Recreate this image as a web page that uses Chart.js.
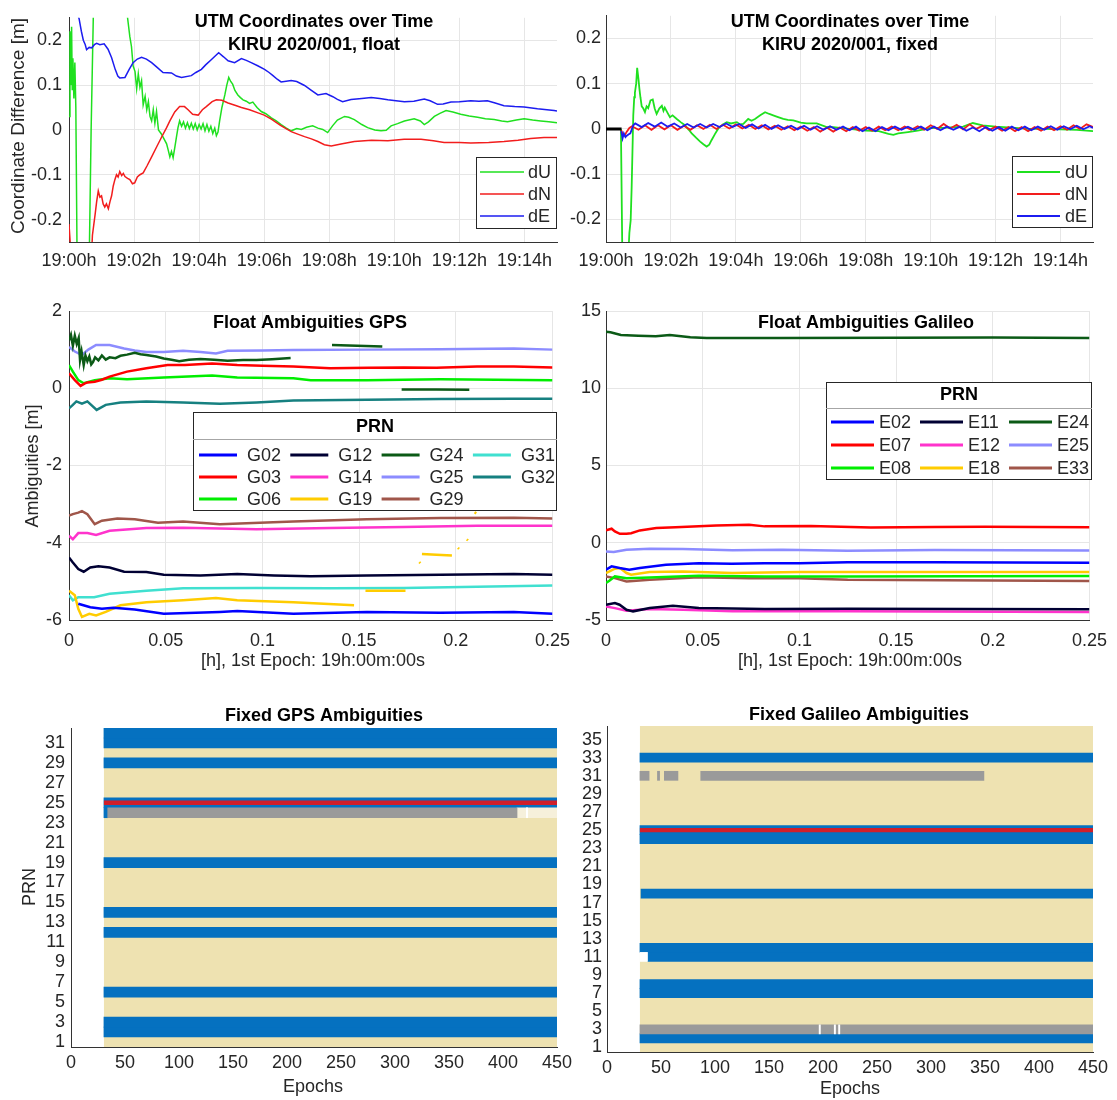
<!DOCTYPE html>
<html>
<head>
<meta charset="utf-8">
<title>KIRU 2020/001 float and fixed solution</title>
<script src="https://cdn.jsdelivr.net/npm/chart.js@4.4.1/dist/chart.umd.min.js"></script>
<style>
  body { margin: 0; background: #fff; }
  #page { position: relative; width: 1117px; height: 1100px; overflow: hidden; }
  canvas { position: absolute; }
</style>
</head>
<body>
<div id="page">
  <canvas id="utmFloat" width="580" height="280" style="left:0;top:0"></canvas>
  <canvas id="utmFixed" width="547" height="280" style="left:570px;top:0"></canvas>
  <canvas id="ambGps" width="580" height="390" style="left:0;top:290px"></canvas>
  <canvas id="ambGal" width="547" height="390" style="left:570px;top:290px"></canvas>
  <canvas id="fixGps" width="580" height="410" style="left:0;top:690px"></canvas>
  <canvas id="fixGal" width="547" height="410" style="left:570px;top:690px"></canvas>
</div>
<script>
// ---------- UTM coordinate differences [m], time = minutes after 19:00 ----------
const timeTicks = [0, 2, 4, 6, 8, 10, 12, 14];
const diffTicks = [-0.2, -0.1, 0, 0.1, 0.2];

const floatDU = [[0,0.03],[0.03,0.22],[0.06,0.10],[0.08,0.23],[0.10,0.09],[0.12,0.16],[0.15,0.07],[0.18,0.15],[0.21,0.05],[0.25,-0.30],
  [0.62,-0.30],[0.68,0.0],[0.76,0.30],[1.78,0.30],[1.80,0.25],[1.87,0.208],[1.92,0.186],[1.97,0.143],[2.03,0.13],[2.08,0.092],[2.13,0.125],
  [2.18,0.095],[2.23,0.11],[2.28,0.056],[2.34,0.075],[2.39,0.045],[2.44,0.063],[2.49,0.03],[2.54,0.02],[2.59,0.045],[2.64,0.015],[2.69,0.041],
  [2.75,0.0],[2.84,-0.009],[2.92,-0.02],[3.00,-0.031],[3.05,-0.045],[3.10,-0.060],[3.15,-0.048],[3.20,-0.062],[3.25,-0.04],[3.30,-0.017],
  [3.35,0.005],[3.40,0.02],[3.46,0.008],[3.52,0.018],[3.58,0.004],[3.64,0.016],[3.70,0.003],[3.76,0.015],[3.82,0.002],[3.88,0.014],[3.94,0.0],
  [4.00,0.012],[4.06,0.002],[4.12,0.014],[4.18,-0.002],[4.24,0.012],[4.30,-0.003],[4.36,0.008],[4.42,-0.008],[4.48,0.004],[4.53,-0.013],
  [4.58,-0.005],[4.63,0.02],[4.70,0.05],[4.79,0.078],[4.85,0.10],[4.91,0.117],[4.97,0.108],[5.03,0.102],[5.10,0.088],[5.19,0.078],[5.27,0.072],
  [5.35,0.067],[5.45,0.064],[5.55,0.059],[5.65,0.062],[5.78,0.05],[5.91,0.041],[6.05,0.036],[6.22,0.027],[6.37,0.02],[6.52,0.012],[6.68,0.004],
  [6.83,-0.002],[7.00,0.003],[7.14,0.001],[7.30,0.006],[7.49,0.009],[7.65,0.004],[7.80,0.001],[7.95,-0.006],[8.10,0.009],[8.25,0.022],
  [8.47,0.030],[8.60,0.028],[8.77,0.023],[9.00,0.012],[9.18,0.005],[9.40,0.0],[9.59,-0.002],[9.75,-0.001],[9.90,0.009],[10.10,0.014],
  [10.31,0.02],[10.61,0.025],[10.80,0.02],[10.92,0.012],[11.05,0.018],[11.23,0.03],[11.40,0.037],[11.59,0.043],[11.80,0.04],[12.04,0.035],
  [12.30,0.031],[12.56,0.028],[12.80,0.025],[13.07,0.023],[13.30,0.02],[13.48,0.018],[13.75,0.022],[13.99,0.025],[14.25,0.022],[14.50,0.02],
  [14.75,0.018],[15.00,0.016]];

const floatDN = [[0,-0.21],[0.08,-0.30],[0.68,-0.30],[0.72,-0.235],[0.80,-0.19],[0.85,-0.16],[0.90,-0.136],[0.95,-0.15],[1.0,-0.147],
  [1.05,-0.165],[1.10,-0.172],[1.15,-0.165],[1.21,-0.176],[1.26,-0.16],[1.31,-0.147],[1.36,-0.125],[1.41,-0.111],[1.46,-0.1],[1.51,-0.105],
  [1.56,-0.093],[1.62,-0.102],[1.67,-0.097],[1.72,-0.104],[1.80,-0.108],[1.87,-0.111],[1.95,-0.12],[2.02,-0.118],[2.1,-0.105],[2.18,-0.1],
  [2.28,-0.096],[2.4,-0.08],[2.54,-0.06],[2.7,-0.037],[2.84,-0.017],[3.0,0.005],[3.10,0.02],[3.25,0.04],[3.40,0.052],[3.55,0.052],
  [3.66,0.045],[3.8,0.035],[3.97,0.033],[4.1,0.045],[4.22,0.052],[4.4,0.063],[4.53,0.067],[4.7,0.066],[4.89,0.06],[5.1,0.055],[5.30,0.05],
  [5.55,0.045],[5.81,0.038],[6.0,0.033],[6.22,0.024],[6.5,0.01],[6.83,-0.004],[7.05,-0.01],[7.24,-0.015],[7.45,-0.02],[7.65,-0.026],
  [7.85,-0.033],[8.06,-0.036],[8.4,-0.031],[8.77,-0.026],[9.3,-0.023],[9.80,-0.024],[10.3,-0.021],[10.82,-0.021],[11.2,-0.024],[11.53,-0.028],
  [12.0,-0.028],[12.35,-0.029],[12.9,-0.028],[13.37,-0.026],[13.8,-0.023],[14.19,-0.019],[14.6,-0.017],[15,-0.017]];

const floatDE = [[0,0.32],[0.31,0.248],[0.38,0.22],[0.44,0.20],[0.50,0.19],[0.54,0.179],[0.62,0.184],[0.70,0.183],[0.78,0.19],[0.85,0.193],
  [0.95,0.19],[1.08,0.192],[1.2,0.18],[1.31,0.161],[1.42,0.135],[1.50,0.12],[1.56,0.116],[1.72,0.117],[1.85,0.135],[1.97,0.15],[2.1,0.158],
  [2.23,0.162],[2.38,0.158],[2.54,0.15],[2.7,0.14],[2.89,0.128],[3.15,0.127],[3.30,0.12],[3.46,0.117],[3.76,0.121],[3.9,0.128],[4.07,0.135],
  [4.2,0.145],[4.38,0.157],[4.60,0.172],[4.75,0.163],[4.89,0.154],[5.09,0.15],[5.30,0.159],[5.45,0.155],[5.60,0.15],[5.8,0.143],[6.01,0.135],
  [6.15,0.128],[6.27,0.121],[6.4,0.113],[6.52,0.107],[6.83,0.110],[7.0,0.108],[7.24,0.099],[7.45,0.088],[7.65,0.078],[7.90,0.081],[8.11,0.074],
  [8.25,0.068],[8.41,0.063],[8.67,0.068],[9.0,0.07],[9.29,0.072],[9.55,0.07],[9.80,0.067],[10.05,0.065],[10.31,0.063],[10.6,0.064],
  [10.92,0.069],[11.1,0.065],[11.33,0.057],[11.5,0.058],[11.74,0.062],[12.0,0.063],[12.35,0.065],[12.6,0.064],[12.86,0.065],[13.1,0.06],
  [13.37,0.054],[13.7,0.052],[13.99,0.051],[14.4,0.047],[14.91,0.043],[15,0.042]];

const fixedReset = [[0,0],[0.48,0]];

const fixedDU = [[0.46,0],[0.50,-0.26],[0.70,-0.26],[0.72,-0.23],[0.76,-0.202],[0.79,-0.13],[0.84,0.03],[0.87,0.07],[0.89,0.08],[0.93,0.10],
  [0.96,0.135],[1.0,0.11],[1.03,0.088],[1.06,0.07],[1.10,0.05],[1.15,0.045],[1.20,0.037],[1.25,0.05],[1.30,0.046],[1.37,0.063],[1.44,0.065],
  [1.50,0.045],[1.56,0.033],[1.64,0.045],[1.72,0.051],[1.77,0.04],[1.81,0.047],[1.9,0.035],[1.97,0.026],[2.05,0.03],[2.18,0.022],[2.3,0.015],
  [2.43,0.008],[2.55,-0.002],[2.64,-0.010],[2.78,-0.02],[2.90,-0.028],[3.0,-0.034],[3.10,-0.039],[3.18,-0.035],[3.25,-0.025],[3.35,-0.012],
  [3.46,0.001],[3.6,0.01],[3.72,0.015],[3.85,0.012],[4.03,0.015],[4.13,0.01],[4.23,0.011],[4.38,0.022],[4.48,0.018],[4.59,0.022],[4.75,0.03],
  [4.90,0.037],[5.03,0.033],[5.15,0.03],[5.3,0.026],[5.46,0.022],[5.6,0.02],[5.77,0.019],[6.0,0.014],[6.18,0.012],[6.49,0.012],[6.80,0.004],
  [7.0,0.004],[7.5,0.0],[8.0,-0.004],[8.4,-0.005],[8.7,-0.011],[8.85,-0.013],[9.0,-0.01],[9.3,-0.007],[9.6,-0.004],[10.0,0.002],[10.5,0.003],
  [11.0,0.005],[11.3,0.013],[11.6,0.008],[12.0,0.005],[12.5,0.003],[13.0,0.0],[13.5,0.0],[14.0,-0.001],[14.5,-0.002],[15,-0.005]];

const fixedDN = [[0.47,-0.003],[0.52,-0.012],[0.57,-0.015],[0.64,-0.006],[0.72,0.002],
  [0.8,0.006],[1.0,-0.002],[1.2,0.008],[1.4,-0.002],[1.6,0.008],[1.8,-0.001],[2.0,0.008],[2.2,-0.002],[2.4,0.007],[2.6,-0.002],[2.8,0.008],
  [3.0,0.0],[3.2,0.009],[3.4,0.0],[3.6,0.009],[3.8,0.001],[4.0,0.01],[4.2,0.001],[4.4,0.009],[4.6,0.0],[4.8,0.008],[5.0,-0.001],[5.2,0.007],
  [5.4,-0.002],[5.6,0.006],[5.8,-0.003],[6.0,0.005],[6.2,-0.004],[6.4,0.004],[6.6,-0.006],[6.8,0.003],[7.0,-0.006],[7.2,0.003],[7.4,-0.005],
  [7.6,0.004],[7.8,-0.004],[8.0,0.004],[8.2,-0.004],[8.4,0.005],[8.6,-0.003],[8.8,0.005],[9.0,-0.003],[9.2,0.005],[9.4,-0.002],[9.6,0.006],
  [9.8,-0.002],[10.0,0.008],[10.2,0.0],[10.4,0.011],[10.6,0.001],[10.8,0.009],[11.0,-0.001],[11.2,0.01],[11.4,0.0],[11.6,0.007],[11.8,-0.003],
  [12.0,0.005],[12.2,-0.004],[12.4,0.004],[12.6,-0.005],[12.8,0.004],[13.0,-0.005],[13.2,0.004],[13.4,-0.004],[13.6,0.005],[13.8,-0.003],
  [14.0,0.006],[14.2,-0.002],[14.4,0.008],[14.6,0.0],[14.8,0.01],[15.0,0.004]];

const fixedDE = [[0.47,-0.005],[0.51,-0.021],[0.55,-0.01],[0.60,-0.018],[0.64,-0.015],[0.70,-0.012],[0.75,-0.01],[0.80,0.0],[0.84,0.008],
  [0.9,0.012],[1.1,0.004],[1.3,0.013],[1.5,0.005],[1.7,0.014],[1.9,0.005],[2.1,0.012],[2.3,0.003],[2.5,0.011],[2.7,0.003],[2.9,0.011],
  [3.1,0.003],[3.3,0.011],[3.5,0.004],[3.7,0.012],[3.9,0.004],[4.1,0.011],[4.3,0.002],[4.5,0.01],[4.7,0.001],[4.9,0.009],[5.1,0.0],[5.3,0.008],
  [5.5,0.0],[5.7,0.007],[5.9,-0.001],[6.1,0.007],[6.3,-0.002],[6.5,0.006],[6.7,-0.002],[6.9,0.006],[7.1,-0.002],[7.3,0.005],[7.5,-0.003],
  [7.7,0.005],[7.9,-0.005],[8.1,0.003],[8.3,-0.005],[8.5,0.004],[8.7,-0.003],[8.9,0.005],[9.1,-0.002],[9.3,0.005],[9.5,-0.002],[9.7,0.005],
  [9.9,-0.003],[10.1,0.005],[10.3,-0.003],[10.5,0.005],[10.7,-0.002],[10.9,0.005],[11.1,-0.004],[11.3,0.003],[11.5,-0.005],[11.7,0.004],
  [11.9,-0.004],[12.1,0.004],[12.3,-0.004],[12.5,0.005],[12.7,-0.003],[12.9,0.005],[13.1,-0.003],[13.3,0.005],[13.5,-0.002],[13.7,0.006],
  [13.9,-0.002],[14.1,0.006],[14.3,-0.001],[14.5,0.007],[14.7,-0.001],[14.9,0.006],[15.0,0.002]];

// ---------- float ambiguities [m], time = hours after 19:00:00 ----------
const hourTicks = [0, 0.05, 0.1, 0.15, 0.2, 0.25];
const gpsAmbTicks = [-6, -4, -2, 0, 2];
const galAmbTicks = [-5, 0, 5, 10, 15];

const G02 = [[0.0048,-5.58],[0.011,-5.67],[0.017,-5.71],[0.023,-5.68],[0.034,-5.73],[0.049,-5.84],[0.078,-5.79],[0.087,-5.77],[0.116,-5.84],
  [0.154,-5.79],[0.192,-5.81],[0.23,-5.79],[0.25,-5.84]];
const G03 = [[0,0.39],[0.003,0.21],[0.006,0.06],[0.008,0.12],[0.0095,0.15],[0.0133,0.17],[0.017,0.22],[0.021,0.30],[0.030,0.43],[0.04,0.52],
  [0.051,0.60],[0.06,0.60],[0.074,0.64],[0.087,0.60],[0.1,0.58],[0.116,0.56],[0.135,0.52],[0.155,0.53],[0.173,0.54],[0.19,0.53],[0.211,0.56],
  [0.23,0.56],[0.25,0.54]];
const G06 = [[0,0.60],[0.002,0.43],[0.0048,0.21],[0.0076,0.13],[0.0133,0.21],[0.021,0.26],[0.030,0.23],[0.049,0.28],[0.074,0.33],[0.087,0.28],
  [0.116,0.26],[0.125,0.21],[0.154,0.21],[0.192,0.23],[0.25,0.21]];
const G12 = [[0,-4.38],[0.002,-4.51],[0.0048,-4.68],[0.0076,-4.75],[0.011,-4.64],[0.0152,-4.61],[0.021,-4.64],[0.0285,-4.75],[0.04,-4.76],
  [0.049,-4.83],[0.068,-4.85],[0.087,-4.81],[0.106,-4.85],[0.125,-4.87],[0.154,-4.85],[0.192,-4.83],[0.23,-4.81],[0.25,-4.83]];
const G14 = [[0,-3.82],[0.002,-3.91],[0.0048,-3.75],[0.0095,-3.75],[0.014,-3.80],[0.021,-3.69],[0.04,-3.62],[0.059,-3.61],[0.097,-3.65],
  [0.135,-3.62],[0.173,-3.59],[0.211,-3.56],[0.25,-3.56]];
const G19 = [[0,-5.24],[0.003,-5.36],[0.0048,-5.71],[0.0067,-5.92],[0.0105,-5.84],[0.014,-5.88],[0.019,-5.79],[0.0266,-5.62],[0.04,-5.54],
  [0.059,-5.49],[0.076,-5.43],[0.087,-5.49],[0.116,-5.54],[0.1474,-5.62],[0.1475,null],[0.1533,-5.24],[0.174,-5.24],[0.1741,null],
  [0.1811,-4.50],[0.1817,-4.53],[0.1818,null],[0.1825,-4.29],[0.190,-4.31],[0.198,-4.33],[0.1981,null],[0.2011,-4.13],[0.2017,-4.16],
  [0.2018,null],[0.2057,-3.91],[0.2063,-3.94],[0.2064,null],[0.2097,-3.21],[0.2106,-3.24]];
const G24 = [[0,1.24],[0.001,1.38],[0.002,1.1],[0.003,1.36],[0.004,1.15],[0.005,1.3],[0.0057,0.73],[0.0065,0.95],[0.0076,0.6],[0.0085,0.85],
  [0.0095,0.7],[0.0105,0.82],[0.0115,0.62],[0.0124,0.68],[0.0135,0.8],[0.0152,0.72],[0.017,0.85],[0.019,0.74],[0.021,0.8],[0.024,0.78],
  [0.0266,0.84],[0.030,0.87],[0.034,0.92],[0.037,0.88],[0.04,0.86],[0.045,0.82],[0.049,0.77],[0.053,0.74],[0.057,0.70],[0.062,0.74],
  [0.068,0.76],[0.075,0.74],[0.082,0.71],[0.09,0.73],[0.097,0.73],[0.105,0.75],[0.1146,0.78],[0.1147,null],[0.136,1.12],[0.149,1.10],
  [0.162,1.08],[0.1621,null],[0.172,-0.03],[0.19,-0.03],[0.207,-0.04]];
const G25 = [[0,1.07],[0.003,0.95],[0.0067,0.86],[0.01,1.0],[0.014,1.12],[0.021,1.12],[0.0285,1.03],[0.034,0.98],[0.04,0.94],[0.049,0.94],
  [0.059,0.97],[0.068,0.94],[0.076,0.90],[0.082,0.97],[0.1,0.98],[0.116,0.99],[0.154,1.0],[0.192,1.01],[0.23,1.03],[0.25,1.0]];
const G29 = [[0,-3.30],[0.002,-3.26],[0.0048,-3.22],[0.0067,-3.18],[0.0095,-3.26],[0.0133,-3.52],[0.017,-3.43],[0.025,-3.37],[0.034,-3.39],
  [0.046,-3.48],[0.059,-3.45],[0.078,-3.52],[0.116,-3.45],[0.154,-3.39],[0.192,-3.36],[0.23,-3.35],[0.25,-3.37]];
const G31 = [[0,-5.36],[0.002,-5.49],[0.0048,-5.41],[0.013,-5.41],[0.021,-5.32],[0.04,-5.24],[0.059,-5.18],[0.097,-5.17],[0.135,-5.18],
  [0.173,-5.17],[0.211,-5.14],[0.25,-5.11]];
const G32 = [[0,-0.52],[0.002,-0.43],[0.0038,-0.34],[0.0067,-0.40],[0.0095,-0.34],[0.0143,-0.56],[0.019,-0.43],[0.0266,-0.37],[0.04,-0.34],
  [0.059,-0.37],[0.078,-0.40],[0.097,-0.37],[0.116,-0.32],[0.154,-0.30],[0.192,-0.28],[0.23,-0.27],[0.25,-0.27]];

const E02 = [[0,-1.75],[0.0029,-1.53],[0.007,-1.64],[0.012,-1.75],[0.0175,-1.64],[0.031,-1.42],[0.048,-1.32],[0.065,-1.36],[0.082,-1.32],
  [0.1,-1.32],[0.125,-1.27],[0.17,-1.27],[0.25,-1.29]];
const E07 = [[0,0.80],[0.0029,0.91],[0.0046,0.73],[0.0072,0.58],[0.0106,0.58],[0.013,0.62],[0.0175,0.80],[0.026,0.95],[0.036,1.01],[0.048,1.06],
  [0.057,1.12],[0.074,1.16],[0.082,1.06],[0.106,1.08],[0.137,0.98],[0.17,1.02],[0.196,1.04],[0.25,1.01]];
const E08 = [[0,-2.61],[0.0017,-2.46],[0.0046,-2.18],[0.0106,-2.29],[0.0226,-2.25],[0.048,-2.14],[0.082,-2.18],[0.125,-2.18],[0.25,-2.16]];
const E11 = [[0,-4.01],[0.0046,-3.90],[0.007,-4.01],[0.0106,-4.34],[0.014,-4.44],[0.0226,-4.23],[0.0346,-4.08],[0.048,-4.23],[0.082,-4.29],
  [0.125,-4.27],[0.25,-4.31]];
const E12 = [[0,-4.12],[0.0046,-4.23],[0.0106,-4.40],[0.0226,-4.29],[0.04,-4.34],[0.0654,-4.44],[0.125,-4.44],[0.25,-4.48]];
const E18 = [[0,-1.96],[0.0046,-1.68],[0.0072,-1.64],[0.0106,-1.96],[0.013,-2.07],[0.0226,-1.90],[0.0397,-1.86],[0.0654,-1.96],[0.1,-1.90],
  [0.125,-1.90],[0.25,-1.90]];
const E24 = [[0,13.66],[0.0023,13.62],[0.0077,13.45],[0.0167,13.40],[0.0257,13.36],[0.033,13.45],[0.0436,13.30],[0.052,13.25],[0.09,13.25],
  [0.15,13.27],[0.2,13.28],[0.25,13.25]];
const E25 = [[0,-0.56],[0.004,-0.6],[0.0106,-0.45],[0.0226,-0.39],[0.0397,-0.41],[0.0654,-0.49],[0.091,-0.45],[0.125,-0.52],[0.17,-0.47],
  [0.25,-0.50]];
const E33 = [[0,-2.18],[0.0046,-2.29],[0.0106,-2.50],[0.0226,-2.39],[0.048,-2.24],[0.074,-2.29],[0.1,-2.29],[0.125,-2.39],[0.25,-2.48]];

// ---------- fixed ambiguities per epoch: [prn, first epoch, last epoch] ----------
const epochTicks = [0, 50, 100, 150, 200, 250, 300, 350, 400, 450];
const gpsPrnTicks = [1, 3, 5, 7, 9, 11, 13, 15, 17, 19, 21, 23, 25, 27, 29, 31];
const galPrnTicks = [1, 3, 5, 7, 9, 11, 13, 15, 17, 19, 21, 23, 25, 27, 29, 31, 33, 35];
const epochSpan = [30.5, 450];

const gpsFixed = [[2,30.5,450],[3,30.5,450],[6,30.5,450],[12,30.5,450],[14,30.5,450],[19,30.5,450],[24,30.5,34],[25,30.5,450],
  [29,30.5,450],[31,30.5,450],[32,30.5,450]];
const gpsFloat = [[24,34,413]];
const gpsFaded = [[24,413,450]];
const gpsGaps = [[24,421.6,422.8]];
const gpsRef = [[25,30.5,450]];

const galFixed = [[2,30.5,450],[7,30.5,450],[8,30.5,450],[11,37.5,450],[12,30.5,450],[18,31.5,450],[24,30.5,450],[25,30.5,450],[33,30.5,450]];
const galFloat = [[3,30.5,450],[31,30.5,39],[31,46.7,48.7],[31,53.1,65.7],[31,86.8,349]];
const galGaps = [[11,30.5,37.5],[3,196.4,197.6],[3,210.4,211.6],[3,214.4,215.6]];
const galRef = [[25,30.5,450]];

// ---------- styling ----------
const FONT = 'Arial, "Liberation Sans", Helvetica, sans-serif';
const FS = 18;
const TXT = '#262626';
const GRID = '#e6e6e6';
const AXIS = '#333333';

const pts = a => a.map(([x, y]) => ({ x, y }));
const spans = a => a.map(([y, x0, x1]) => ({ y, x: [x0, x1] }));

const line = (label, data, color, width, order = 0, inLegend = true) => ({
  label, data: pts(data), borderColor: color, backgroundColor: color, borderWidth: width,
  pointRadius: 0, tension: 0, order, inLegend
});

const cells = (data, color, order, thick = 1) => ({
  data: spans(data), backgroundColor: color, borderWidth: 0, grouped: false,
  barPercentage: thick, categoryPercentage: 1, order
});

const texts = {
  id: 'texts',
  afterDraw(chart, args, o) {
    if (!o.items) return;
    const ctx = chart.ctx;
    o.items.forEach(it => {
      ctx.save();
      ctx.font = (it.bold ? 'bold ' : '') + (it.size || FS) + 'px ' + FONT;
      ctx.fillStyle = it.bold ? '#000' : TXT;
      ctx.textAlign = 'center';
      ctx.textBaseline = 'middle';
      ctx.translate(it.x, it.y);
      if (it.rot) ctx.rotate(-Math.PI / 2);
      ctx.fillText(it.t, 0, 0);
      ctx.restore();
    });
  }
};

const boxLegend = {
  id: 'boxLegend',
  afterDatasetsDraw(chart, args, o) {
    if (!o.box) return;
    const ctx = chart.ctx;
    const [bx, by, bw, bh] = o.box;
    ctx.save();
    ctx.fillStyle = '#fff';
    ctx.fillRect(bx, by, bw, bh);
    ctx.strokeStyle = '#262626';
    ctx.lineWidth = 1;
    ctx.strokeRect(bx + 0.5, by + 0.5, bw - 1, bh - 1);
    ctx.textBaseline = 'middle';
    if (o.title) {
      ctx.font = 'bold ' + FS + 'px ' + FONT;
      ctx.fillStyle = '#000';
      ctx.textAlign = 'center';
      ctx.fillText(o.title, bx + bw / 2, o.titleY);
      ctx.strokeStyle = '#a6a6a6';
      ctx.beginPath();
      ctx.moveTo(bx, o.sepY + 0.5);
      ctx.lineTo(bx + bw, o.sepY + 0.5);
      ctx.stroke();
    }
    ctx.font = FS + 'px ' + FONT;
    ctx.textAlign = 'left';
    ctx.fillStyle = TXT;
    chart.data.datasets.filter(d => d.inLegend).forEach((d, i) => {
      const x = o.x0 + Math.floor(i / o.rows) * o.colW;
      const y = o.y0 + (i % o.rows) * o.rowH;
      ctx.strokeStyle = d.borderColor;
      ctx.lineWidth = o.lineW;
      ctx.beginPath();
      ctx.moveTo(x, y);
      ctx.lineTo(x + o.lineLen, y);
      ctx.stroke();
      ctx.fillText(d.label, x + o.textDx, y + 1);
    });
    ctx.restore();
  }
};

const cellBackground = {
  id: 'cellBackground',
  beforeDatasetsDraw(chart, args, o) {
    if (!o.color) return;
    const { ctx, chartArea: a, scales: { x } } = chart;
    const x0 = x.getPixelForValue(o.span[0]), x1 = x.getPixelForValue(o.span[1]);
    ctx.save();
    ctx.fillStyle = o.color;
    ctx.fillRect(x0, a.top, x1 - x0, a.bottom - a.top);
    ctx.restore();
  }
};

Chart.register(texts, boxLegend, cellBackground);

function axis(s) {
  return {
    type: 'linear', min: s.min, max: s.max, offset: false,
    afterBuildTicks: sc => { sc.ticks = s.ticks.map(v => ({ value: v })); },
    afterFit: sc => { if (sc.isHorizontal()) sc.height = s.size; else sc.width = s.size; },
    ticks: {
      autoSkip: false, maxRotation: 0, padding: s.pad, color: TXT,
      font: { family: FONT, size: FS }, callback: s.fmt || (v => String(v))
    },
    grid: { display: s.grid !== false, color: GRID, lineWidth: 1, drawTicks: false, offset: false },
    border: { display: true, color: AXIS, width: 1 }
  };
}

function options(c) {
  return {
    responsive: false, animation: false, events: [],
    indexAxis: c.indexAxis || 'x',
    layout: { padding: c.pad },
    scales: { x: axis(c.x), y: axis(c.y) },
    plugins: {
      legend: { display: false },
      tooltip: { enabled: false },
      texts: { items: c.texts },
      boxLegend: c.legend || {},
      cellBackground: c.cells || {}
    }
  };
}

const clock = v => '19:' + String(v).padStart(2, '0') + 'h';

// ---------- UTM float ----------
new Chart(document.getElementById('utmFloat'), {
  type: 'line',
  data: { datasets: [
    line('dU', floatDU, '#1fe01f', 1.5, 3),
    line('dN', floatDN, '#f21d1d', 1.5, 2),
    line('dE', floatDE, '#1c1cf0', 1.5, 1)
  ] },
  options: options({
    pad: { left: 0, top: 12, right: 23, bottom: 0 },
    x: { min: 0, max: 15, ticks: timeTicks, size: 38, pad: 8, fmt: clock },
    y: { min: -0.25, max: 0.25, ticks: diffTicks, size: 69, pad: 7 },
    texts: [
      { t: 'UTM Coordinates over Time', x: 314, y: 22, bold: true },
      { t: 'KIRU 2020/001, float', x: 314, y: 45, bold: true },
      { t: 'Coordinate Difference [m]', x: 19, y: 126, rot: true, size: 19 }
    ],
    legend: { box: [476, 157, 81, 72], rows: 3, x0: 480, y0: 172, rowH: 22, colW: 0, lineLen: 44, textDx: 48, lineW: 1.5 }
  })
});

// ---------- UTM fixed ----------
new Chart(document.getElementById('utmFixed'), {
  type: 'line',
  data: { datasets: [
    line('dU', fixedDU, '#1fe01f', 1.8, 3),
    line('dN', fixedDN, '#f21d1d', 1.8, 2),
    line('dE', fixedDE, '#1c1cf0', 1.8, 1),
    line('reset', fixedReset, '#000000', 3, 0, false)
  ] },
  options: options({
    pad: { left: 0, top: 12, right: 24, bottom: 0 },
    x: { min: 0, max: 15, ticks: timeTicks, size: 38, pad: 8, fmt: clock },
    y: { min: -0.25, max: 0.25, ticks: diffTicks, size: 36, pad: 5 },
    texts: [
      { t: 'UTM Coordinates over Time', x: 280, y: 22, bold: true },
      { t: 'KIRU 2020/001, fixed', x: 280, y: 45, bold: true }
    ],
    legend: { box: [442, 156, 81, 72], rows: 3, x0: 447, y0: 172, rowH: 22, colW: 0, lineLen: 43, textDx: 48, lineW: 2 }
  })
});

// ---------- float ambiguities GPS ----------
new Chart(document.getElementById('ambGps'), {
  type: 'line',
  data: { datasets: [
    line('G02', G02, '#0000ff', 2.5),
    line('G03', G03, '#ff0000', 2.5),
    line('G06', G06, '#00ee00', 2.5),
    line('G12', G12, '#000033', 2.5),
    line('G14', G14, '#ff33cc', 2.5),
    line('G19', G19, '#ffcc00', 2.5),
    line('G24', G24, '#0b5a16', 2.5),
    line('G25', G25, '#8c8cff', 2.5),
    line('G29', G29, '#a0564a', 2.5),
    line('G31', G31, '#40e0d0', 2.5),
    line('G32', G32, '#168080', 2.5)
  ] },
  options: options({
    pad: { left: 0, top: 21, right: 23, bottom: 0 },
    x: { min: 0, max: 0.25, ticks: hourTicks, size: 60, pad: 10 },
    y: { min: -6, max: 2, ticks: gpsAmbTicks, size: 69, pad: 7 },
    texts: [
      { t: 'Float Ambiguities GPS', x: 310, y: 33, bold: true },
      { t: 'Ambiguities [m]', x: 33, y: 176, rot: true },
      { t: '[h], 1st Epoch: 19h:00m:00s', x: 313, y: 371 }
    ],
    legend: { box: [193, 122, 364, 99], title: 'PRN', titleY: 137, sepY: 149, rows: 3, x0: 199, y0: 165, rowH: 22,
      colW: 91.3, lineLen: 38, textDx: 48, lineW: 3 }
  })
});

// ---------- float ambiguities Galileo ----------
new Chart(document.getElementById('ambGal'), {
  type: 'line',
  data: { datasets: [
    line('E02', E02, '#0000ff', 2.5),
    line('E07', E07, '#ff0000', 2.5),
    line('E08', E08, '#00ee00', 2.5),
    line('E11', E11, '#000033', 2.5),
    line('E12', E12, '#ff33cc', 2.5),
    line('E18', E18, '#ffcc00', 2.5),
    line('E24', E24, '#0b5a16', 2.5),
    line('E25', E25, '#8c8cff', 2.5),
    line('E33', E33, '#a0564a', 2.5)
  ] },
  options: options({
    pad: { left: 0, top: 21, right: 24, bottom: 0 },
    x: { min: 0, max: 0.25, ticks: hourTicks, size: 60, pad: 10 },
    y: { min: -5, max: 15, ticks: galAmbTicks, size: 36, pad: 5 },
    texts: [
      { t: 'Float Ambiguities Galileo', x: 296, y: 33, bold: true },
      { t: '[h], 1st Epoch: 19h:00m:00s', x: 280, y: 371 }
    ],
    legend: { box: [256, 92, 266, 98], title: 'PRN', titleY: 105, sepY: 118, rows: 3, x0: 261, y0: 132, rowH: 23,
      colW: 89, lineLen: 43, textDx: 48, lineW: 3 }
  })
});

// ---------- fixed ambiguities (epoch x PRN) ----------
const BLUE = '#0571c0', BEIGE = '#eee2b1', GREY = '#9a9a9a', RED = '#cf1f2a';

new Chart(document.getElementById('fixGps'), {
  type: 'bar',
  data: { datasets: [
    cells(gpsRef, RED, 1, 0.45),
    cells(gpsGaps, '#ffffff', 2),
    cells(gpsFloat, GREY, 3),
    cells(gpsFaded, '#f6f0db', 3),
    cells(gpsFixed, BLUE, 4)
  ] },
  options: options({
    indexAxis: 'y',
    pad: { left: 0, top: 38, right: 23, bottom: 0 },
    x: { min: 0, max: 450, ticks: epochTicks, size: 53, pad: 5, grid: false },
    y: { min: 0.5, max: 32.5, ticks: gpsPrnTicks, size: 71, pad: 6, grid: false },
    cells: { color: BEIGE, span: epochSpan },
    texts: [
      { t: 'Fixed GPS Ambiguities', x: 324, y: 26, bold: true },
      { t: 'Epochs', x: 313, y: 397 },
      { t: 'PRN', x: 30, y: 197, rot: true }
    ]
  })
});

new Chart(document.getElementById('fixGal'), {
  type: 'bar',
  data: { datasets: [
    cells(galRef, RED, 1, 0.45),
    cells(galGaps, '#ffffff', 2),
    cells(galFloat, GREY, 3),
    cells(galFixed, BLUE, 4)
  ] },
  options: options({
    indexAxis: 'y',
    pad: { left: 0, top: 36, right: 24, bottom: 0 },
    x: { min: 0, max: 450, ticks: epochTicks, size: 48, pad: 5, grid: false },
    y: { min: 0.5, max: 36.5, ticks: galPrnTicks, size: 37, pad: 5, grid: false },
    cells: { color: BEIGE, span: epochSpan },
    texts: [
      { t: 'Fixed Galileo Ambiguities', x: 289, y: 25, bold: true },
      { t: 'Epochs', x: 280, y: 399 }
    ]
  })
});
</script>
</body>
</html>
